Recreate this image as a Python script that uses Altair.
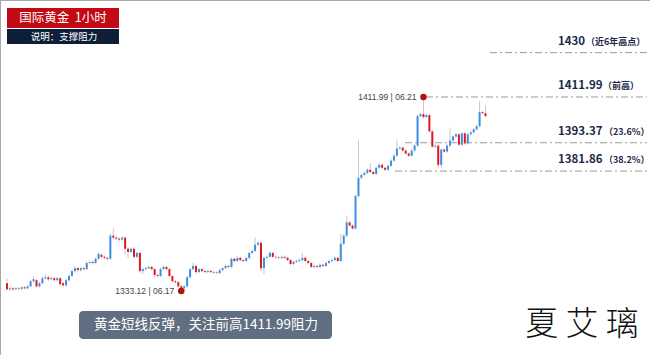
import altair as alt
import pandas as pd

# ---------------- data ----------------
opens = [1336.3,1333.8,1334.2,1333.8,1334.2,1334.0,1334.6,1334.2,1335.0,1337.1,
         1337.5,1335.0,1336.3,1338.3,1338.7,1337.9,1338.3,1337.5,1338.3,1336.3,
         1335.4,1337.5,1339.2,1341.2,1342.4,1341.6,1342.4,1342.0,1344.5,1344.9,
         1344.5,1346.2,1347.8,1347.0,1346.6,1346.2,1355.6,1354.8,1354.4,1354.0,
         1354.8,1350.3,1349.0,1350.3,1347.0,1348.6,1341.2,1342.0,1342.4,1342.9,
         1342.0,1339.6,1339.2,1342.0,1342.9,1342.0,1339.2,1337.1,1336.7,1335.0,
         1334.2,1335.0,1338.7,1342.0,1343.3,1340.8,1342.0,1341.2,1340.8,1341.2,
         1340.8,1340.6,1340.4,1341.6,1342.4,1343.3,1342.9,1346.2,1345.3,1346.6,
         1345.7,1345.3,1346.6,1348.6,1349.4,1351.9,1352.7,1342.4,1346.6,1347.0,
         1348.6,1347.0,1346.8,1346.6,1347.0,1346.6,1345.7,1344.1,1344.9,1345.3,
         1345.7,1346.6,1345.3,1344.5,1342.9,1343.3,1342.9,1343.7,1343.3,1344.5,
         1345.3,1345.7,1346.6,1345.3,1352.3,1355.6,1361.0,1359.7,1358.5,1371.7,
         1379.1,1380.3,1381.1,1382.4,1381.5,1380.7,1383.2,1384.4,1383.2,1382.4,
         1384.0,1386.1,1388.1,1391.0,1391.4,1390.2,1389.0,1388.1,1390.2,1392.2,
         1404.2,1405.0,1403.8,1404.6,1398.0,1391.8,1392.2,1384.4,1390.6,1389.8,
         1392.2,1394.3,1395.9,1396.8,1392.6,1397.2,1393.1,1396.8,1397.6,1398.8,
         1400.1,1405.8,1405.4]
closes = [1333.8,1334.2,1333.8,1334.2,1334.0,1334.6,1334.2,1335.0,1337.1,1337.9,
          1335.0,1336.3,1338.3,1338.7,1337.9,1338.3,1337.5,1338.3,1335.9,1335.4,
          1337.5,1339.2,1341.2,1342.4,1341.6,1342.4,1342.0,1344.5,1344.9,1344.5,
          1346.2,1348.2,1347.0,1346.6,1346.2,1355.6,1354.8,1354.4,1354.0,1354.8,
          1350.3,1349.0,1350.3,1347.0,1348.6,1341.2,1342.0,1342.4,1342.9,1342.0,
          1339.6,1339.2,1342.0,1342.9,1342.0,1339.2,1337.1,1336.7,1335.0,1334.2,
          1335.0,1338.7,1342.0,1343.3,1340.8,1342.0,1341.2,1340.8,1341.2,1340.8,
          1340.6,1340.4,1341.6,1342.4,1343.3,1342.9,1346.2,1345.3,1346.6,1345.7,
          1345.3,1346.6,1348.6,1349.4,1351.9,1352.7,1342.4,1346.6,1347.0,1348.6,
          1347.0,1346.8,1346.6,1347.0,1346.6,1345.7,1344.1,1344.9,1345.3,1345.7,
          1346.6,1345.3,1344.5,1342.9,1343.3,1342.9,1343.7,1343.3,1344.5,1345.3,
          1345.7,1346.6,1345.3,1352.3,1355.6,1361.0,1359.7,1358.5,1371.7,1379.1,
          1380.3,1381.1,1382.4,1381.5,1380.7,1383.2,1384.4,1383.2,1382.4,1384.0,
          1386.1,1388.1,1391.0,1391.4,1390.2,1389.0,1388.1,1390.2,1392.2,1404.2,
          1405.0,1403.8,1404.6,1398.0,1391.8,1392.2,1384.4,1390.6,1389.8,1392.2,
          1394.3,1395.9,1396.8,1392.6,1397.2,1393.1,1396.8,1397.6,1398.8,1400.1,
          1405.8,1405.4,1404.2]
highs = [1338.3,1334.8,1334.7,1334.8,1334.7,1335.2,1335.1,1335.6,1337.8,1339.2,
         1338.1,1336.9,1339.0,1340.0,1339.3,1338.9,1338.9,1339.0,1338.8,1336.9,
         1338.1,1339.8,1341.8,1343.2,1343.0,1343.0,1343.0,1345.2,1345.5,1345.5,
         1346.8,1348.9,1348.4,1347.6,1347.1,1356.4,1358.5,1355.3,1354.9,1355.4,
         1355.3,1350.8,1350.9,1350.8,1349.2,1349.1,1342.6,1343.0,1343.5,1343.4,
         1342.5,1340.1,1342.6,1343.7,1343.4,1342.5,1339.7,1337.6,1337.2,1335.5,
         1335.6,1339.3,1342.6,1344.5,1343.8,1342.6,1342.5,1341.7,1341.7,1341.7,
         1341.3,1341.1,1342.2,1343.0,1343.9,1343.8,1346.8,1346.7,1347.2,1347.1,
         1346.2,1347.2,1349.2,1350.0,1354.8,1353.3,1353.2,1347.2,1347.6,1349.2,
         1349.1,1347.5,1347.3,1347.6,1347.5,1347.1,1346.2,1345.5,1345.9,1346.3,
         1348.6,1347.1,1345.8,1345.0,1343.9,1343.8,1344.3,1344.2,1345.1,1345.9,
         1346.3,1347.2,1347.1,1356.4,1356.2,1363.8,1361.5,1360.2,1372.3,1394.7,
         1380.9,1381.7,1383.0,1385.2,1382.0,1383.8,1385.0,1384.9,1383.7,1384.6,
         1386.7,1388.7,1394.7,1392.0,1391.9,1390.7,1389.5,1390.8,1392.8,1404.8,
         1405.6,1411.99,1405.2,1405.1,1398.5,1392.8,1392.7,1391.2,1391.1,1392.8,
         1399.6,1396.5,1397.4,1397.3,1397.8,1397.7,1397.4,1398.2,1399.4,1400.7,
         1410.3,1406.3,1408.7]
lows = [1333.4,1333.3,1333.3,1333.4,1333.5,1333.6,1333.7,1333.8,1334.6,1336.5,
        1334.4,1334.5,1335.8,1337.8,1337.2,1337.4,1336.9,1337.0,1335.0,1334.8,
        1334.9,1337.0,1338.7,1340.7,1340.9,1341.0,1341.4,1341.5,1344.0,1343.9,
        1344.0,1345.7,1346.4,1346.0,1345.6,1345.7,1354.2,1353.8,1353.4,1353.5,
        1347.8,1346.6,1348.4,1346.2,1346.5,1340.4,1340.0,1341.5,1341.9,1341.5,
        1338.3,1338.6,1338.7,1341.5,1341.5,1338.6,1336.6,1336.1,1334.5,1333.12,
        1333.7,1334.5,1338.2,1341.5,1340.0,1340.3,1340.7,1340.3,1340.3,1340.3,
        1340.1,1339.9,1339.9,1341.1,1341.9,1342.3,1342.4,1344.8,1344.8,1345.2,
        1344.8,1344.8,1346.1,1348.1,1348.9,1351.4,1341.2,1340.0,1346.1,1346.5,
        1346.5,1346.3,1346.1,1346.1,1346.1,1345.2,1343.5,1343.6,1344.4,1344.8,
        1345.2,1344.8,1344.0,1342.3,1342.4,1342.4,1342.4,1342.8,1342.8,1344.0,
        1344.8,1345.2,1344.8,1344.8,1351.8,1355.1,1359.2,1358.0,1358.0,1371.2,
        1378.6,1379.8,1380.6,1381.0,1380.2,1380.2,1382.7,1382.7,1381.9,1381.9,
        1383.5,1385.6,1387.6,1390.5,1389.7,1388.5,1387.6,1387.6,1389.7,1391.7,
        1403.7,1403.3,1403.3,1397.5,1391.3,1391.3,1383.2,1383.2,1389.3,1389.3,
        1391.7,1393.8,1395.4,1392.1,1392.1,1392.6,1392.6,1396.3,1397.1,1398.3,
        1399.6,1405.0,1403.7]

level_prices = [1430, 1411.99, 1393.37, 1381.86]
level_main = ["1430", "1411.99", "1393.37", "1381.86"]
level_note = ["（近6年高点）", "（前高）", "（23.6%）", "（38.2%）"]

peak_idx, peak_price, peak_label = 141, 1411.99, "1411.99  | 06.21"
low_idx, low_price, low_label = 59, 1333.12, "1333.12  | 06.17"

title_text = "国际黄金\u00a0\u00a01小时"
sub_text = "说明：支撑阻力"
banner_text = "黄金短线反弹，关注前高1411.99阻力"
sign_text = "夏 艾 璃"

# ---------------- styling / layout ----------------
FONT = "Noto Sans CJK SC"
BLUE = "#3a8ee6"
RED = "#e3161e"
WICK = "#c8c8c8"
NAVY = "#1b2a47"
W, H = 650, 355

level_start = [490, 426, 405, 395]
note_x = [586, 603, 604, 604]

df = pd.DataFrame({"i": list(range(len(opens))), "open": opens, "close": closes,
                   "high": highs, "low": lows})

xs = alt.Scale(domain=[-2/3, 216])
ys = alt.Scale(domain=[1307.1, 1451.4])
X = alt.X("i:Q", scale=xs, axis=None)

wick = alt.Chart(df).mark_rule(color=WICK, strokeWidth=1).encode(
    x=X, y=alt.Y("low:Q", scale=ys, axis=None), y2="high:Q")
body = alt.Chart(df).mark_bar(size=2).encode(
    x=X, y=alt.Y("open:Q", scale=ys, axis=None), y2="close:Q",
    color=alt.condition("datum.close >= datum.open", alt.value(BLUE), alt.value(RED)))

layers = [wick, body]

for p, m, n, xs0, nx in zip(level_prices, level_main, level_note, level_start, note_x):
    d = pd.DataFrame({"p": [p], "m": [m], "n": [n]})
    Y = alt.Y("p:Q", scale=ys, axis=None)
    layers.append(alt.Chart(d).mark_rule(color="#9a9a9a", strokeWidth=1,
                                         strokeDash=[7, 3, 2, 3]).encode(
        y=Y, x=alt.value(xs0), x2=alt.value(647)))
    layers.append(alt.Chart(d).mark_text(align="left", baseline="middle", dy=-11,
                                         font=FONT, fontSize=11.5, fontWeight="bold",
                                         color=NAVY).encode(
        y=Y, x=alt.value(558), text="m:N"))
    layers.append(alt.Chart(d).mark_text(align="left", baseline="middle", dy=-11,
                                         font=FONT, fontSize=9, fontWeight="bold",
                                         color=NAVY).encode(
        y=Y, x=alt.value(nx), text="n:N"))

ann = pd.DataFrame({"i": [peak_idx, low_idx], "p": [peak_price, low_price],
                    "t": [peak_label, low_label]})
layers.append(alt.Chart(ann).mark_circle(size=42, color="#b50f0f", opacity=1).encode(
    x=X, y=alt.Y("p:Q", scale=ys, axis=None)))
layers.append(alt.Chart(ann).mark_text(align="right", baseline="middle", dx=-7,
                                       font="Liberation Sans", fontSize=8.5,
                                       color="#444444").encode(
    x=X, y=alt.Y("p:Q", scale=ys, axis=None), text="t:N"))

one = pd.DataFrame({"k": [0]})
# title boxes
layers.append(alt.Chart(one).mark_rect(color="#c20a14").encode(
    x=alt.value(7), x2=alt.value(119), y=alt.value(8), y2=alt.value(28)))
layers.append(alt.Chart(one).mark_rect(color="#0f1e38").encode(
    x=alt.value(7), x2=alt.value(119), y=alt.value(29), y2=alt.value(44)))
layers.append(alt.Chart(one).mark_text(font=FONT, fontSize=12.5, color="white",
                                       align="center", baseline="middle").encode(
    x=alt.value(63), y=alt.value(18), text=alt.value(title_text)))
layers.append(alt.Chart(one).mark_text(font=FONT, fontSize=9.5, color="white",
                                       align="center", baseline="middle").encode(
    x=alt.value(64), y=alt.value(36.5), text=alt.value(sub_text)))
# banner
layers.append(alt.Chart(one).mark_rect(color="#5f6e81", cornerRadius=4).encode(
    x=alt.value(79), x2=alt.value(332), y=alt.value(311), y2=alt.value(339)))
layers.append(alt.Chart(one).mark_text(font=FONT, fontSize=13.5, color="white",
                                       align="center", baseline="middle").encode(
    x=alt.value(206), y=alt.value(325), text=alt.value(banner_text)))
# signature
layers.append(alt.Chart(one).mark_text(font=FONT, fontSize=33, fontWeight=300,
                                       color="#111111", align="center",
                                       baseline="middle").encode(
    x=alt.value(582), y=alt.value(325), text=alt.value(sign_text)))
# frame lines (left, top)
layers.append(alt.Chart(one).mark_rule(color="#a8a8a8", strokeWidth=1).encode(
    x=alt.value(0.5), y=alt.value(0), y2=alt.value(H)))
layers.append(alt.Chart(one).mark_rule(color="#a8a8a8", strokeWidth=1).encode(
    y=alt.value(0.5), x=alt.value(0), x2=alt.value(W)))

chart = alt.layer(*layers).properties(
    width=W, height=H, padding=0,
    autosize=alt.AutoSizeParams(type="none"),
    background="white",
).configure_view(strokeWidth=0)

chart.save("out.html", embed_options={"renderer": "svg", "actions": False})
